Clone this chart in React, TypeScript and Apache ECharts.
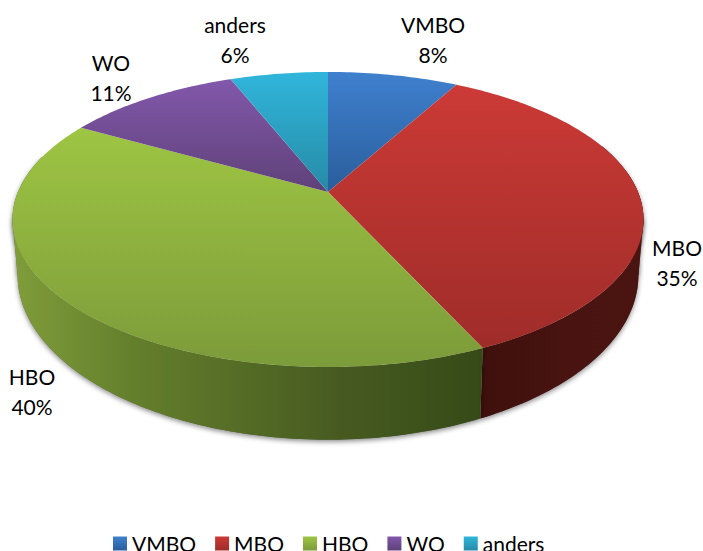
import React, { useEffect, useRef } from "react";
import * as echarts from "echarts";

const categories = ["VMBO", "MBO", "HBO", "WO", "anders"];
const shares = [8, 35.2, 40, 10.8, 6];

const topColors = [
  ["#3F80CE", "#2A5E9C"],
  ["#CC3A36", "#9F2C29"],
  ["#9EC543", "#7C9B3A"],
  ["#8258AB", "#5F4179"],
  ["#30B6DB", "#278AA6"],
];
const sideStops: Record<number, [number, string][]> = {
  1: [[0, "#3E100C"], [0.5, "#481310"], [1, "#4A1411"]],
  2: [[0, "#7F9C3A"], [0.25, "#647F2C"], [0.7, "#465A20"], [1, "#364A18"]],
};
const labelAnchors = [
  [433, 39],
  [677, 262],
  [32, 391],
  [111, 77],
  [235, 39],
];

const FONT = "Lato, 'Noto Sans', sans-serif";
const CX = 328;
const TOP = { c0: 192, S: 142.4, R: 310, k: 0.1864 };
const BOTTOM = { c0: 244.3, S: 159, R: 305, k: 0.1864 };
const LEFT_EDGE = 259;
const RIGHT_EDGE = 101;

function project(p: typeof TOP, deg: number): number[] {
  const a = (deg * Math.PI) / 180;
  const u = Math.sin(a);
  const v = Math.cos(a);
  const w = 1 + p.k * v;
  return [CX + (p.R * u) / w, p.c0 - (p.S * v) / w];
}

function arc(p: typeof TOP, from: number, to: number): number[][] {
  const pts: number[][] = [];
  const n = Math.max(2, Math.ceil(to - from));
  for (let i = 0; i <= n; i++) pts.push(project(p, from + ((to - from) * i) / n));
  return pts;
}

const total = shares.reduce((s, v) => s + v, 0);

function buildSeries() {
  let cum = 0;
  return categories.map((name, i) => {
    const start = (cum / total) * 360;
    cum += shares[i];
    const end = (cum / total) * 360;
    const gradient = {
      type: "linear", x: 0, y: 0, x2: 0, y2: 1,
      colorStops: [
        { offset: 0, color: topColors[i][0] },
        { offset: 1, color: topColors[i][1] },
      ],
    };
    return {
      type: "custom",
      name,
      coordinateSystem: "none",
      silent: true,
      itemStyle: { color: gradient },
      data: [[shares[i]]],
      renderItem: () => {
        const children: any[] = [];
        const sFrom = Math.max(start, 70);
        const sTo = Math.min(end, 285);
        if (sTo > sFrom) {
          const pts = arc(TOP, sFrom, sTo).concat(arc(BOTTOM, sFrom, sTo).reverse());
          // silhouette edge joining the upper and lower rims at their widest points
          const hull: number[][] = [];
          if (sFrom < RIGHT_EDGE && RIGHT_EDGE < sTo) {
            hull.push(project(TOP, RIGHT_EDGE), project(BOTTOM, RIGHT_EDGE), project(BOTTOM, sFrom), project(TOP, sFrom));
          }
          if (sFrom < LEFT_EDGE && LEFT_EDGE < sTo) {
            hull.push(project(TOP, LEFT_EDGE), project(BOTTOM, LEFT_EDGE), project(BOTTOM, sTo), project(TOP, sTo));
          }
          const shapes = hull.length ? [pts, hull] : [pts];
          shapes.forEach((points) =>
            children.push({
              type: "polygon",
              shape: { points },
              style: {
                fill: "#666",
                shadowBlur: 5,
                shadowColor: "rgba(0,0,0,0.45)",
                shadowOffsetY: 2,
              },
            })
          );
          const stops = (sideStops[i] || []).map(([offset, color]) => ({ offset, color }));
          const x0 = i === 2 ? 16 : 483;
          const x1 = i === 2 ? 483 : 640;
          shapes.forEach((points) =>
            children.push({
              type: "polygon",
              shape: { points },
              style: {
                fill: new echarts.graphic.LinearGradient(x0, 0, x1, 0, stops, true),
              },
            })
          );
        }
        children.push({
          type: "polygon",
          shape: { points: [[CX, TOP.c0]].concat(arc(TOP, start, end)) },
          style: { fill: new echarts.graphic.LinearGradient(0, 0, 0, 1, gradient.colorStops) },
        });
        children.push({
          type: "text",
          x: labelAnchors[i][0],
          y: labelAnchors[i][1],
          style: {
            text: `${name}\n${Math.round((shares[i] / total) * 100)}%`,
            font: `21px ${FONT}`,
            lineHeight: 30,
            fill: "#000000",
            align: "center",
            verticalAlign: "middle",
          },
        });
        return { type: "group", children };
      },
    };
  });
}

export default function App() {
  const ref = useRef<HTMLDivElement>(null);
  useEffect(() => {
    const chart = echarts.init(ref.current!, undefined, { renderer: "svg" });
    chart.setOption({
      animation: false,
      backgroundColor: "#ffffff",
      legend: {
        data: categories,
        left: 113,
        top: 533,
        padding: 0,
        itemWidth: 14,
        itemHeight: 14,
        itemGap: 19,
        icon: "rect",
        textStyle: { fontFamily: FONT, fontSize: 21, lineHeight: 14, color: "#000000" },
      },
      series: buildSeries(),
    } as any);
    return () => chart.dispose();
  }, []);
  return (
    <div
      ref={ref}
      style={{ position: "absolute", left: 0, top: 0, width: 703, height: 551 }}
    />
  );
}
